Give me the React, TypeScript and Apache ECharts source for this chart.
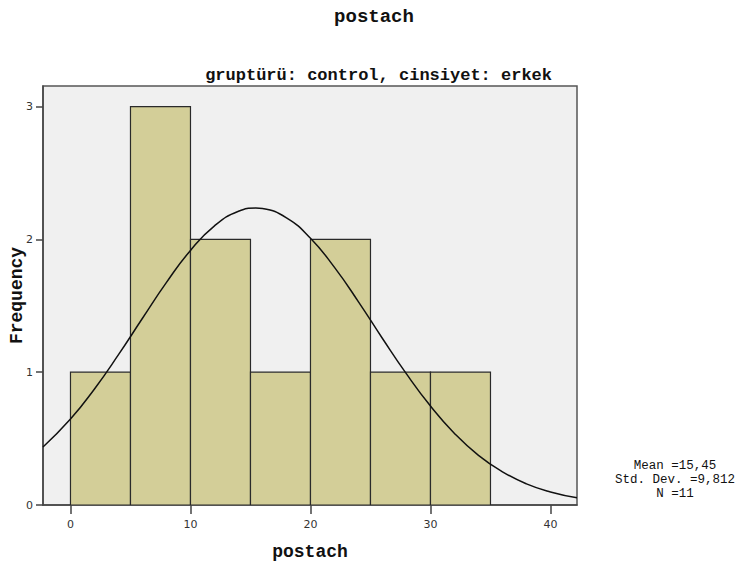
import React, { useEffect, useRef } from "react";
import * as echarts from "echarts";

const binStart = [0, 5, 10, 15, 20, 25, 30];
const binWidth = 5;
const counts = [1, 3, 2, 1, 2, 1, 1];
const xTicks = [0, 10, 20, 30, 40];
const yTicks = [0, 1, 2, 3];
const curveX = [-2.29, 0, 2, 4, 6, 8, 10, 12, 14, 15.45, 16, 18, 20, 22, 24, 26, 28, 30, 32, 34, 36, 38, 40, 42.21];
const curveY = [0.437, 0.647, 0.874, 1.132, 1.406, 1.676, 1.917, 2.102, 2.212, 2.236, 2.232, 2.162, 2.008, 1.789, 1.53, 1.254, 0.987, 0.745, 0.539, 0.374, 0.25, 0.159, 0.098, 0.054];
const statsLines = ["Mean =15,45", "Std. Dev. =9,812", "N =11"];
const titleText = "postach";
const subtitleText = "gruptürü: control, cinsiyet: erkek";
const xName = "postach";
const yName = "Frequency";

export default function App() {
  const ref = useRef<HTMLDivElement>(null);
  useEffect(() => {
    if (!ref.current) return;
    const chart = echarts.init(ref.current, null, { renderer: "svg" });
    const mono = "'Liberation Mono', 'Courier New', monospace";
    const barData = binStart.map((s, i) => [s, s + binWidth, counts[i]]);
    chart.setOption({
      animation: false,
      backgroundColor: "#ffffff",
      title: {
        text: titleText,
        left: "center",
        top: 2,
        textStyle: { fontFamily: mono, fontWeight: "bold", fontSize: 19, color: "#111" },
      },
      graphic: [
        {
          type: "text",
          right: 748 - 552,
          top: 67,
          style: { text: subtitleText, font: `bold 17px ${mono}`, fill: "#111" },
        },
        ...statsLines.map((t, i) => ({
          type: "text",
          x: 675,
          y: 466 + i * 14,
          style: {
            text: t,
            font: `12.5px ${mono}`,
            fill: "#111",
            align: "center",
            verticalAlign: "middle",
          },
        })),
      ],
      grid: {
        left: 43,
        right: 171,
        top: 86,
        bottom: 63,
        containLabel: false,
        outerBoundsMode: "none",
        show: true,
        backgroundColor: "#f0f0f0",
        borderColor: "#555",
        borderWidth: 1.5,
      },
      xAxis: {
        type: "value",
        min: -2.29,
        max: 42.21,
        name: xName,
        nameLocation: "middle",
        nameGap: 38,
        nameMoveOverlap: false,
        nameTextStyle: { fontFamily: mono, fontWeight: "bold", fontSize: 18, color: "#111" },
        axisLine: { show: true, onZero: false, lineStyle: { color: "#444", width: 1.5 } },
        axisTick: { show: true, length: 9, customValues: xTicks, lineStyle: { color: "#444", width: 1.5 } },
        axisLabel: {
          customValues: xTicks,
          margin: 14,
          fontFamily: "'DejaVu Sans', sans-serif",
          fontSize: 11,
          color: "#333",
        },
        splitLine: { show: false },
      },
      yAxis: {
        type: "value",
        min: 0,
        max: 3.155,
        name: yName,
        nameLocation: "middle",
        nameRotate: 90,
        nameGap: 17,
        nameMoveOverlap: false,
        nameTextStyle: { fontFamily: mono, fontWeight: "bold", fontSize: 18, color: "#111" },
        axisLine: { show: true, onZero: false, lineStyle: { color: "#444", width: 1.5 } },
        axisTick: { show: true, length: 7, customValues: yTicks, lineStyle: { color: "#444", width: 1.5 } },
        axisLabel: {
          customValues: yTicks,
          margin: 10,
          fontFamily: "'DejaVu Sans', sans-serif",
          fontSize: 11,
          color: "#333",
        },
        splitLine: { show: false },
      },
      series: [
        {
          type: "custom",
          data: barData,
          encode: { x: [0, 1], y: 2 },
          clip: true,
          renderItem: (params: any, api: any) => {
            const p0 = api.coord([api.value(0), api.value(2)]);
            const p1 = api.coord([api.value(1), 0]);
            return {
              type: "rect",
              shape: { x: p0[0], y: p0[1], width: p1[0] - p0[0], height: p1[1] - p0[1] },
              style: { fill: "#d3ce98", stroke: "#2a2a2a", lineWidth: 1.2 },
            };
          },
          z: 2,
        },
        {
          type: "line",
          data: curveX.map((x, i) => [x, curveY[i]]),
          smooth: true,
          showSymbol: false,
          clip: true,
          lineStyle: { color: "#111", width: 1.5 },
          z: 3,
        },
      ],
    });
    return () => chart.dispose();
  }, []);
  return <div ref={ref} style={{ position: "fixed", left: 0, top: 0, width: 748, height: 568 }} />;
}
